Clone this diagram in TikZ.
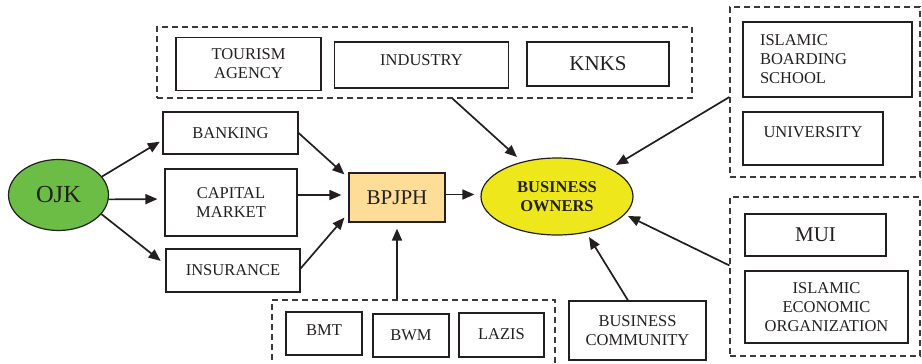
\documentclass[tikz,border=0pt]{standalone}
\usepackage{fontspec}
\setmainfont{Liberation Serif}
\usetikzlibrary{arrows.meta,shapes.geometric,calc}
\definecolor{ojkgreen}{HTML}{6CBD45}
\definecolor{boyellow}{HTML}{EDE71B}
\definecolor{bporange}{HTML}{FEDE96}
\definecolor{lnc}{HTML}{231F20}
\definecolor{dashc}{HTML}{3A3A3A}
\newcommand{\fsSmall}{\fontsize{16.5}{19}\selectfont}
\newcommand{\fsMid}{\fontsize{21}{24}\selectfont}
\newcommand{\fsBig}{\fontsize{24.5}{28}\selectfont}
\begin{document}
\begin{tikzpicture}[x=1pt,y=-1pt,
  box/.style={draw=lnc, line width=1.2pt, rectangle, inner sep=0pt, font=\fsSmall, align=center, text=lnc},
  grp/.style={draw=dashc, line width=1.1pt, dash pattern=on 6pt off 4pt, rectangle, inner sep=0pt},
  arr/.style={draw=lnc, line width=1.7pt, -{Triangle[length=12pt,width=10pt]}},
  oval/.style={draw=lnc, line width=1.2pt, ellipse, inner sep=0pt, align=center, text=lnc}]
\useasboundingbox (0,0) rectangle (922,364);
% groups
\node[grp, minimum width=535pt, minimum height=71pt] (top) at (424.5,62.5) {};
\node[grp, minimum width=190pt, minimum height=170pt] (rtop) at (825,92) {};
\node[grp, minimum width=190pt, minimum height=159pt] (rbot) at (825,276.5) {};
\node[grp, minimum width=283pt, minimum height=80pt] (bot) at (413.5,340) {};
% main nodes
\node[oval, fill=ojkgreen, minimum width=100pt, minimum height=71pt, font=\fsBig] (ojk) at (58.5,195) {OJK};
\node[box, minimum width=135pt, minimum height=42pt] (bank) at (230.5,133) {BANKING};
\node[box, minimum width=132pt, minimum height=67pt] (cap) at (231,202.5) {CAPITAL\\MARKET};
\node[box, minimum width=134pt, minimum height=43pt] (ins) at (233,270.5) {INSURANCE};
\node[box, fill=bporange, minimum width=96pt, minimum height=49pt, font=\fsMid] (bpjph) at (397,197.5) {BPJPH};
\node[oval, fill=boyellow, minimum width=152pt, minimum height=77pt, font=\fsSmall\bfseries] (bo) at (557,196.5) {BUSINESS\\OWNERS};
% top group
\node[box, minimum width=145pt, minimum height=53pt] (tour) at (248.5,64) {TOURISM\\AGENCY};
\node[box, minimum width=174pt, minimum height=46pt, text depth=9pt] (ind) at (421.5,65) {INDUSTRY};
\node[box, minimum width=142pt, minimum height=44pt, font=\fsMid] (knks) at (598,64) {KNKS};
% right top group
\node[box, minimum width=169pt, minimum height=75pt, align=left, text width=135pt] (ibs) at (827.5,59.5) {ISLAMIC\\BOARDING\\SCHOOL};
\node[box, minimum width=140pt, minimum height=53pt, text depth=13pt] (univ) at (813,138.5) {UNIVERSITY};
% right bottom group
\node[box, minimum width=141pt, minimum height=42pt, font=\fsMid] (mui) at (815.5,235) {MUI};
\node[box, minimum width=163pt, minimum height=72pt] (ieo) at (826.5,307) {ISLAMIC\\ECONOMIC\\ORGANIZATION};
% bottom group
\node[box, minimum width=76pt, minimum height=43pt, text depth=6pt] (bmt) at (324,333.5) {BMT};
\node[box, minimum width=76pt, minimum height=43pt] (bwm) at (411,335.5) {BWM};
\node[box, minimum width=85pt, minimum height=44pt, text depth=2pt] (lazis) at (501.5,335) {LAZIS};
\node[box, minimum width=137pt, minimum height=59pt] (bc) at (637.5,330.5) {BUSINESS\\COMMUNITY};
% arrows
\draw[arr, shorten >=3pt] (ojk.23) -- (bank.186);
\draw[arr, shorten >=7pt] (ojk.-5) -- (cap.177);
\draw[arr, shorten >=6pt] (ojk.-24) -- (ins.175);
\draw[arr] (bank.east) -- ($(bpjph.north west)+(-4,2)$);
\draw[arr] ($(cap.east)+(0,-7.5)$) -- ($(bpjph.west)+(-7,-2.5)$);
\draw[arr] ($(ins.east)+(0,-2)$) -- ($(bpjph.south west)+(-4,-5)$);
\draw[arr, shorten >=6pt] (bpjph.south |- bot.north) -- (bpjph.south);
\draw[arr, shorten >=6pt] ($(bpjph.east)+(0,-3)$) -- ($(bo.west)+(0,-2)$);
\draw[arr] ($(top.south west)+(296,0)$) -- ($(bo.center)+(-40,-39.5)$);
\draw[arr] ($(rtop.west)+(0,5)$) -- ($(bo.center)+(59,-31.5)$);
\draw[arr] ($(rbot.west)+(0,-11)$) -- ($(bo.center)+(71,19.5)$);
\draw[arr] ($(bc.north)+(-9.5,0)$) -- ($(bo.center)+(32,40.5)$);
\end{tikzpicture}
\end{document}
